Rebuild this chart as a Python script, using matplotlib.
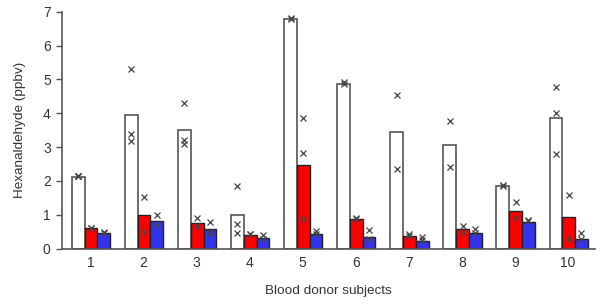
import matplotlib
matplotlib.use("Agg")
import matplotlib.pyplot as plt
import numpy as np

plt.rcParams['font.family'] = ['Liberation Sans', 'DejaVu Sans']

subjects = ['1', '2', '3', '4', '5', '6', '7', '8', '9', '10']
white_vals = [2.12, 3.95, 3.50, 1.00, 6.78, 4.86, 3.45, 3.07, 1.84, 3.85]
red_vals = [0.60, 1.00, 0.76, 0.40, 2.48, 0.86, 0.37, 0.59, 1.12, 0.92]
blue_vals = [0.47, 0.80, 0.58, 0.30, 0.44, 0.34, 0.23, 0.47, 0.79, 0.28]

white_pts = [[2.15, 2.14, 2.13], [5.32, 3.39, 3.18], [4.29, 3.22, 3.09],
             [1.85, 0.72, 0.46], [6.80, 6.78], [4.93, 4.85], [4.53, 2.35],
             [3.77, 2.41], [1.87, 1.85], [4.77, 4.02, 2.80]]
red_pts = [[0.62, 0.60], [1.52, 0.49], [0.89, 0.68], [0.44, 0.42],
           [3.85, 2.83, 0.86], [0.89, 0.86], [0.44, 0.37], [0.68, 0.50],
           [1.37, 0.89], [1.59, 0.29]]
blue_pts = [[0.50, 0.47], [1.00, 0.69], [0.78, 0.50, 0.46], [0.39, 0.27],
            [0.52, 0.42], [0.54, 0.27], [0.33, 0.25], [0.57, 0.45],
            [0.83, 0.80], [0.46, 0.28]]

fig = plt.figure(figsize=(6.0, 3.08), dpi=100)
ax = fig.add_axes([0.103, 0.193, 0.889, 0.769])

x = np.arange(1, len(subjects) + 1)
w = 0.24
offs = [-0.23, 0.01, 0.25]
ax.bar(x + offs[0], white_vals, w, color='white', edgecolor='#555555', linewidth=1.2)
ax.bar(x + offs[1], red_vals, w, color='#FF0000', edgecolor='#222222', linewidth=1.0)
ax.bar(x + offs[2], blue_vals, w, color='#3333EE', edgecolor='#222222', linewidth=1.0)

for pts_list, off in [(white_pts, offs[0]), (red_pts, offs[1]), (blue_pts, offs[2])]:
    for xi, pts in zip(x, pts_list):
        ax.plot([xi + off] * len(pts), pts, linestyle='none', marker='x',
                color='#444444', markersize=5, markeredgewidth=0.9)

ax.set_xlim(0.46, 10.51)
ax.set_ylim(0, 7)
ax.set_xticks(x)
ax.set_xticklabels(subjects)
ax.set_yticks(range(0, 8))
for s in ['top', 'right']:
    ax.spines[s].set_visible(False)
for s in ['left', 'bottom']:
    ax.spines[s].set_color('#555555')
    ax.spines[s].set_linewidth(1.2)
ax.tick_params(axis='x', length=0, pad=5, labelsize=10, labelcolor='#333333')
ax.tick_params(axis='y', length=4, width=1, color='#555555', pad=4, labelsize=10, labelcolor='#333333')

ax.set_ylabel('Hexanaldehyde (ppbv)', fontsize=9.7, color='#333333', labelpad=12)
ax.set_xlabel('Blood donor subjects', fontsize=9.7, color='#333333', labelpad=11)

fig.savefig('out.png', dpi=100)
